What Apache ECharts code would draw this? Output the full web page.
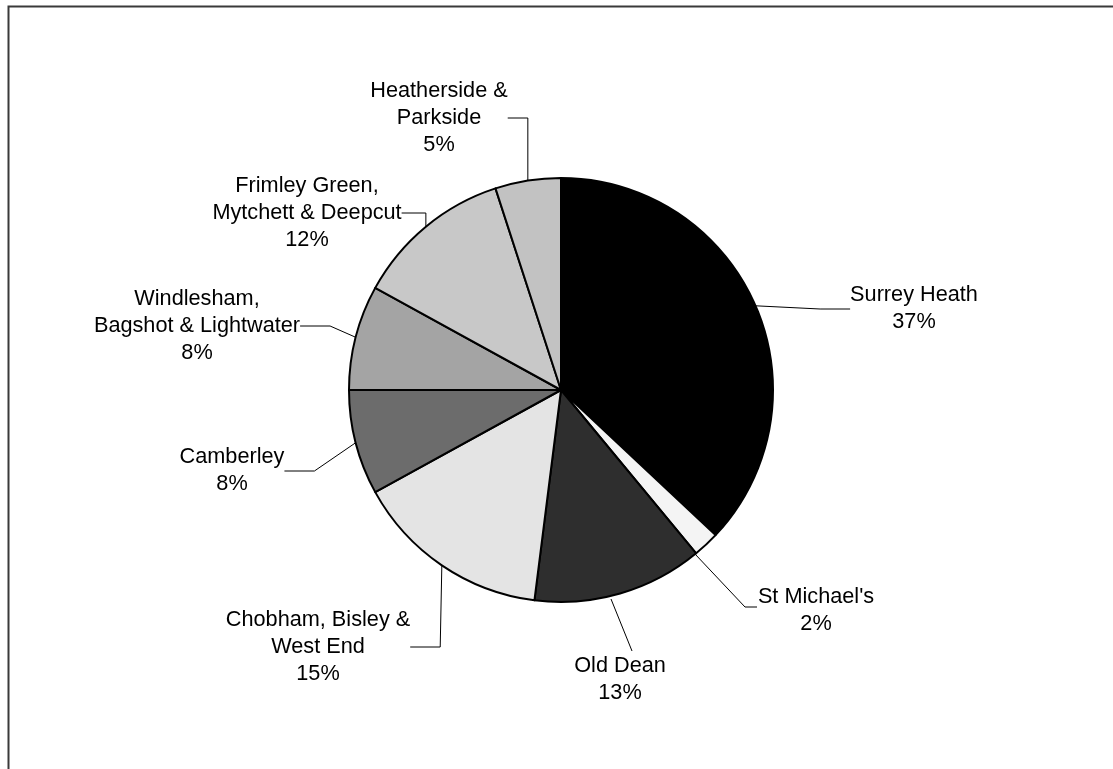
<!DOCTYPE html>
<html>
<head>
<meta charset="utf-8">
<script src="https://cdn.jsdelivr.net/npm/echarts@6/dist/echarts.min.js"></script>
<style>html,body{margin:0;padding:0;background:#fff;}#chart{width:1113px;height:769px;}</style>
</head>
<body>
<div id="chart"></div>
<script>
// Data
const categories = [
  'Surrey Heath',
  "St Michael's",
  'Old Dean',
  'Chobham, Bisley &\nWest End',
  'Camberley',
  'Windlesham,\nBagshot & Lightwater',
  'Frimley Green,\nMytchett & Deepcut',
  'Heatherside &\nParkside'
];
const values = [37, 2, 13, 15, 8, 8, 12, 5];

// Styling (kept separate from data)
const fills = ['#000000', '#f4f4f4', '#2e2e2e', '#e4e4e4', '#6c6c6c', '#a4a4a4', '#c8c8c8', '#c2c2c2'];
// label text-block centres
const labelPos = [
  [914, 309], [816, 611], [620, 680], [318, 647],
  [232, 471], [197, 326], [307, 213], [439, 118]
];
// explicit leader paths for labels whose automatic guide differs
const leaderPaths = [
  null,
  [[695, 554], [745, 607], [757, 607]],
  [[611, 599], [632, 651]],
  null, null, null, null, null
];

const chart = echarts.init(document.getElementById('chart'), null, {renderer: 'canvas'});
chart.setOption({
  backgroundColor: '#ffffff',
  animation: false,
  graphic: [{
    type: 'rect', left: 6, top: 4,
    shape: {x: 0, y: 0, width: 1200, height: 900},
    style: {fill: 'none', stroke: '#3a3a3a', lineWidth: 2},
    silent: true
  }],
  series: [{
    type: 'pie',
    center: [561, 390],
    radius: 212,
    startAngle: 90,
    clockwise: true,
    percentPrecision: 0,
    data: categories.map((c, i) => ({
      name: c, value: values[i],
      itemStyle: {color: fills[i]}
    })),
    itemStyle: {borderColor: '#000', borderWidth: 2},
    label: {
      formatter: '{b}\n{d}%',
      fontFamily: 'Liberation Sans, Arial, sans-serif',
      fontSize: 21.7,
      lineHeight: 27,
      color: '#000',
      align: 'center'
    },
    labelLine: {
      show: true,
      lineStyle: {color: '#000', width: 1}
    },
    labelLayout: function (p) {
      const pos = labelPos[p.dataIndex];
      const res = {
        x: pos[0], y: pos[1],
        align: 'center', verticalAlign: 'middle',
        moveOverlap: false
      };
      if (leaderPaths[p.dataIndex]) res.labelLinePoints = leaderPaths[p.dataIndex];
      return res;
    },
    emphasis: {disabled: true}
  }]
});
</script>
</body>
</html>
